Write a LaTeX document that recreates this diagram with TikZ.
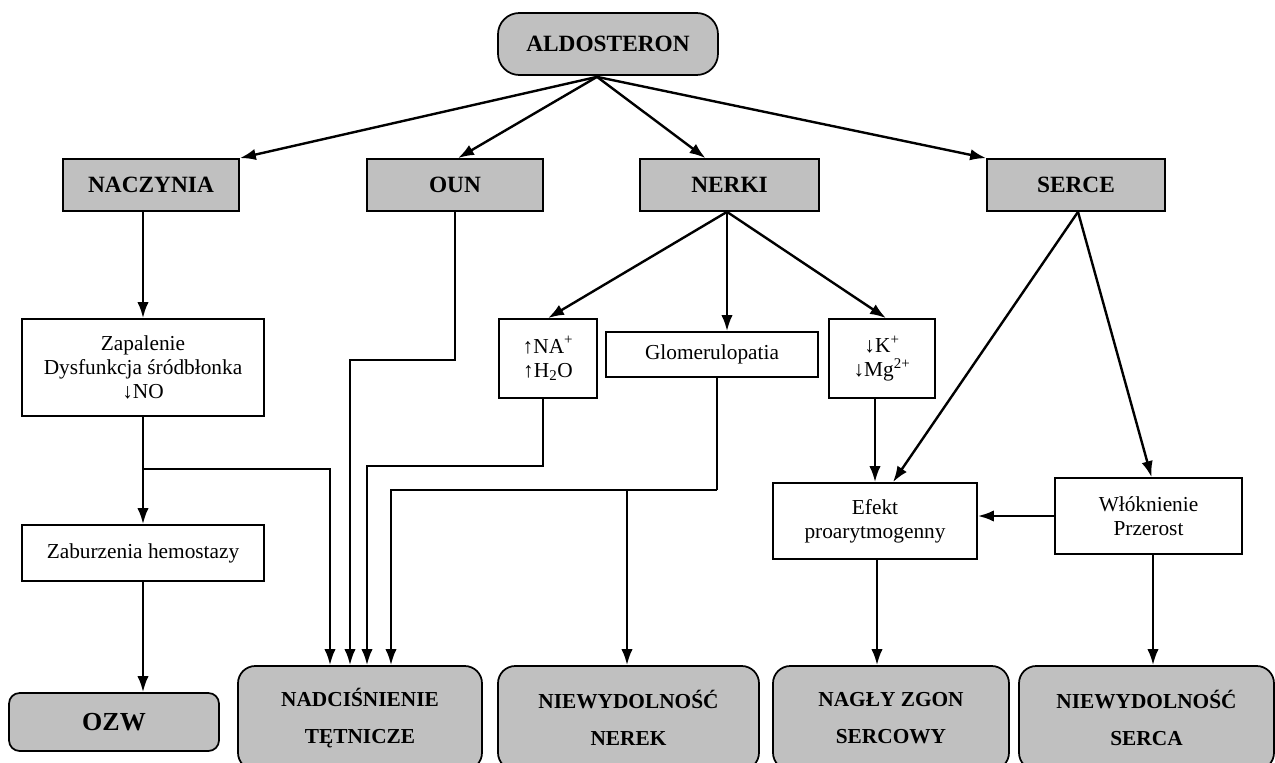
\documentclass[tikz,border=0pt]{standalone}
\usepackage{fontspec}
\setmainfont{Liberation Serif}
\usetikzlibrary{arrows.meta,calc}
\begin{document}
\begin{tikzpicture}[x=0.75pt,y=-0.75pt,
  wh/.style 2 args={minimum width=#1*0.75pt, minimum height=#2*0.75pt, inner sep=0pt},
  graybox/.style={draw, line width=1.3pt, fill=boxgray, font=\bfseries\fontsize{17.5}{21}\selectfont, align=center},
  plainbox/.style={draw, line width=1.3pt, fill=white, font=\fontsize{16}{18}\selectfont, align=center},
  endbox/.style={draw, line width=1.3pt, fill=boxgray, rounded corners=13pt, font=\bfseries\fontsize{16}{28}\selectfont, align=center},
  arr/.style={line width=1.8pt, -{Latex[length=12pt,width=8.5pt]}},
  ln/.style={line width=1.8pt}
]
\definecolor{boxgray}{RGB}{192,192,192}
\path[use as bounding box, fill=white] (0,0) rectangle (1275,763);

% top level
\node[graybox, wh={220}{62}, rounded corners=16pt] (aldo) at (608,44) {ALDOSTERON};
\node[graybox, wh={176}{52}] (nacz) at (151,185) {NACZYNIA};
\node[graybox, wh={176}{52}] (oun) at (455,185) {OUN};
\node[graybox, wh={179}{52}] (nerki) at (729.5,185) {NERKI};
\node[graybox, wh={178}{52}] (serce) at (1076,185) {SERCE};

% middle
\node[plainbox, wh={242}{97}] (zap) at (143,367.5) {Zapalenie\\Dysfunkcja śródbłonka\\↓NO};
\node[plainbox, wh={98}{79}] (na) at (548,358.5) {↑NA\textsuperscript{+}\\↑H\textsubscript{2}O};
\node[plainbox, wh={212}{45}] (glom) at (712,354.5) {Glomerulopatia};
\node[plainbox, wh={106}{79}] (kmg) at (882,358.5) {↓K\textsuperscript{+}\\↓Mg\textsuperscript{2+}};
\node[plainbox, wh={204}{76}] (efekt) at (875,521) {Efekt\\proarytmogenny};
\node[plainbox, wh={187}{76}] (wlok) at (1148.5,516) {Włóknienie\\Przerost};
\node[plainbox, wh={242}{56}] (zab) at (143,553) {Zaburzenia hemostazy};

% bottom
\node[endbox, wh={210}{58}, rounded corners=8pt, font=\bfseries\fontsize{19.5}{22}\selectfont] (ozw) at (114,722) {OZW};
\node[endbox, wh={244}{104}] (nadc) at (360,718) {NADCIŚNIENIE\\TĘTNICZE};
\node[endbox, wh={261}{104}] (nern) at (628.5,718) {NIEWYDOLNOŚĆ\\NEREK};
\node[endbox, wh={236}{104}] (nagly) at (891,718) {NAGŁY ZGON\\SERCOWY};
\node[endbox, wh={255}{104}] (nser) at (1146.5,718) {NIEWYDOLNOŚĆ\\SERCA};

% connectors from aldosteron
\coordinate (a0) at ($(aldo.south)+(-11,1)$);
\draw[arr] (a0) -- (nacz.north east);
\draw[arr] (a0) -- ($(oun.north)+(3,0)$);
\draw[arr] (a0) -- ($(nerki.north)+(-24,0)$);
\draw[arr] (a0) -- (serce.north west);

% naczynia branch
\draw[arr] (nacz.south -| zap.north) -- (zap.north);
\draw[arr] (zap.south) -- (zab.north);
\coordinate (j1) at ($(zap.south)+(0,52)$);
\draw[arr] (j1) -| ($(nadc.north)+(-30,0)$);
\draw[arr] (zab.south) -- (zab.south |- ozw.north);

% OUN
\draw[arr] (oun.south) -- ++(0,148) -| ($(nadc.north)+(-10,0)$);

% nerki branch
\coordinate (n0) at ($(nerki.south)+(-2.5,0)$);
\draw[arr] (n0) -- (na.north);
\draw[arr] (n0) -- (n0 |- glom.north);
\draw[arr] (n0) -- ($(kmg.north)+(4,0)$);
\draw[arr] ($(na.south)+(-5,0)$) -- ++(0,67) -| ($(nadc.north)+(7,0)$);
\coordinate (g1) at ($(glom.south)+(5,112)$);
\draw[ln] ($(glom.south)+(5,0)$) -- (g1);
\draw[arr] (g1) -| ($(nadc.north)+(31,0)$);
\draw[arr] (g1) -| ($(nern.north)+(-1.5,0)$);
\draw[arr] (kmg.south -| efekt.north) -- (efekt.north);

% serce branch
\coordinate (s0) at ($(serce.south)+(2,0)$);
\draw[arr] (s0) -- ($(efekt.north)+(18,0)$);
\draw[arr] (s0) -- ($(wlok.north)+(3,0)$);
\draw[arr] (wlok.west) -- (wlok.west -| efekt.east);
\draw[arr] ($(efekt.south)+(2,0)$) -- ($(efekt.south |- nagly.north)+(2,0)$);
\draw[arr] ($(wlok.south)+(4.5,0)$) -- ($(wlok.south |- nser.north)+(4.5,0)$);
\end{tikzpicture}
\end{document}
